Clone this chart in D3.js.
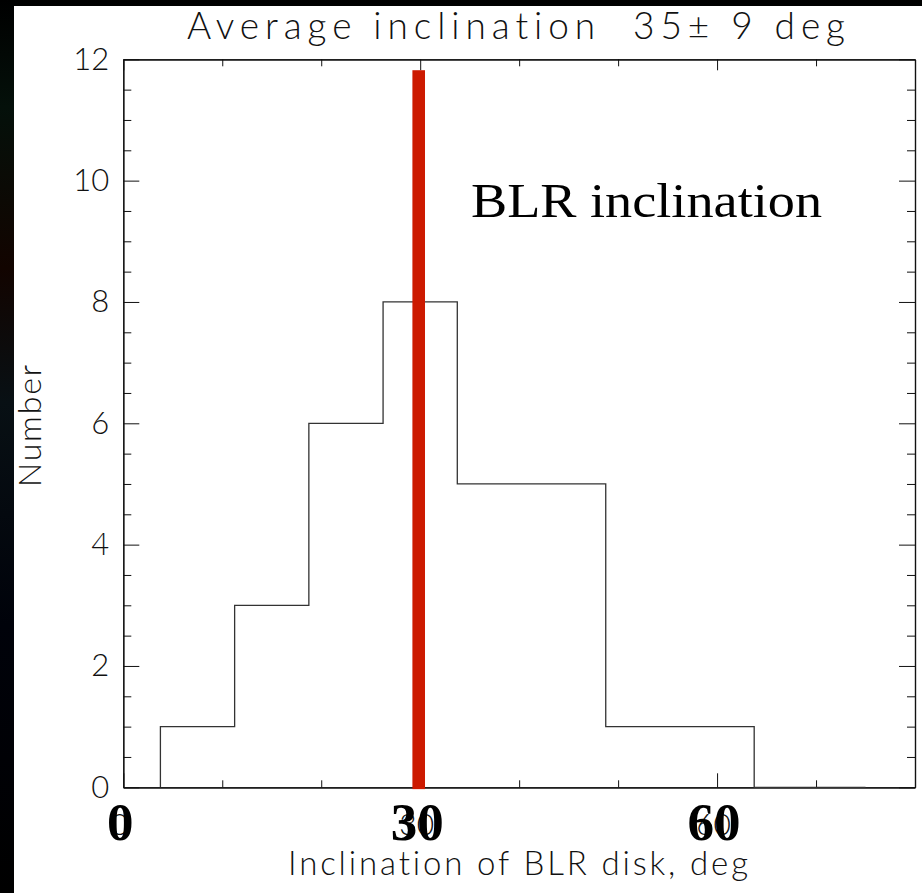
<!DOCTYPE html>
<html>
<head>
<meta charset="utf-8">
<script src="https://cdn.jsdelivr.net/npm/d3@7"></script>
<style>
  body { margin: 0; background: #000; }
  svg { display: block; }
  .thin { font-family: "Lato", "DejaVu Sans", sans-serif; font-weight: 300; fill: #111;
          font-variant-ligatures: none; font-feature-settings: "liga" 0; }
</style>
</head>
<body>
<div id="chart-area"></div>
<script>
/*
*   histogram of BLR disk inclinations
*/
// data
var binEdges  = [3.75, 11.25, 18.75, 26.25, 33.75, 41.25, 48.75, 56.25, 63.75, 75];
var binCounts = [1, 3, 6, 8, 5, 5, 1, 1, 0];
var xMajorTicks = [0, 30, 60];
var xMinorTicks = [10, 20, 40, 50, 70];
var yMajorTicks = [0, 2, 4, 6, 8, 10, 12];
var yMinorTicks = d3.range(0.5, 12, 0.5).filter(function(d){ return d % 2 != 0; });
var markerX = [29.85];          // red BLR line
var markerY = [-0.03, 11.82];
var titleText = "Average inclination  35\u00b1 9 deg";
var xLabelText = "Inclination of BLR disk, deg";
var yLabelText = "Number";
var noteText = "BLR inclination";

var W = 922, H = 893;
var margin = {left: 123.3, right: 7, top: 59.3, bottom: 105.7};
var width = W - margin.left - margin.right;
var height = H - margin.top - margin.bottom;

var svg = d3.select("#chart-area")
    .append("svg")
        .attr("width", W)
        .attr("height", H);

// dark photo-ish strip on the left
var grad = svg.append("defs").append("linearGradient")
    .attr("id", "strip").attr("x1", 0).attr("y1", 0).attr("x2", 0).attr("y2", 1);
[["0", "#000"], ["0.12", "#04100a"], ["0.3", "#120400"], ["0.45", "#081014"], ["0.7", "#00020a"], ["1", "#000"]]
    .forEach(function(s){ grad.append("stop").attr("offset", s[0]).attr("stop-color", s[1]); });
svg.append("rect").attr("width", W).attr("height", H).attr("fill", "url(#strip)");
svg.append("rect").attr("x", 14).attr("y", 6).attr("width", W - 14).attr("height", H - 6).attr("fill", "#fff");

var g = svg.append("g")
    .attr("transform", "translate(" + margin.left + "," + margin.top + ")");

var x = d3.scaleLinear().domain([0, 80]).range([0, width]);
var y = d3.scaleLinear().domain([0, 12]).range([height, 0]);

// axes: ticks point inward on all four sides
function styleAxis(sel){
    sel.select(".domain").attr("stroke", "#111").attr("stroke-width", 1.2);
    sel.selectAll(".tick line").attr("stroke", "#111").attr("stroke-width", 1);
}
g.append("g").attr("transform", "translate(0," + height + ")")
    .call(d3.axisBottom(x).tickValues(xMinorTicks).tickSize(-7).tickSizeOuter(0).tickFormat(""))
    .call(styleAxis);
var xAxisGroup = g.append("g").attr("transform", "translate(0," + height + ")")
    .call(d3.axisBottom(x).tickValues(xMajorTicks).tickSize(-14).tickSizeOuter(0).tickPadding(26))
    .call(styleAxis);
g.append("g")
    .call(d3.axisTop(x).tickValues(xMinorTicks).tickSize(-7).tickSizeOuter(0).tickFormat(""))
    .call(styleAxis);
g.append("g")
    .call(d3.axisTop(x).tickValues(xMajorTicks).tickSize(-11).tickSizeOuter(0).tickFormat(""))
    .call(styleAxis);

g.append("g")
    .call(d3.axisLeft(y).tickValues(yMinorTicks).tickSize(-8).tickSizeOuter(0).tickFormat(""))
    .call(styleAxis);
var yAxisGroup = g.append("g")
    .call(d3.axisLeft(y).tickValues(yMajorTicks).tickSize(-16).tickSizeOuter(0).tickPadding(14))
    .call(styleAxis);
g.append("g").attr("transform", "translate(" + width + ",0)")
    .call(d3.axisRight(y).tickValues(yMinorTicks).tickSize(-8).tickSizeOuter(0).tickFormat(""))
    .call(styleAxis);
g.append("g").attr("transform", "translate(" + width + ",0)")
    .call(d3.axisRight(y).tickValues(yMajorTicks).tickSize(-16).tickSizeOuter(0).tickFormat(""))
    .call(styleAxis);

yAxisGroup.selectAll("text")
    .attr("class", "thin")
    .attr("font-size", "31px")
    .attr("font-family", null);
xAxisGroup.selectAll("text")
    .attr("class", "thin")
    .attr("font-size", "30px")
    .attr("font-family", null)
    .attr("dx", "-4px");

// big serif labels pasted over the axis numbers
g.selectAll(".big-label").data(xMajorTicks).enter()
    .append("text")
        .attr("class", "big-label")
        .attr("x", function(d){ return x(d) - 3; })
        .attr("y", height + 52.7)
        .attr("text-anchor", "middle")
        .attr("font-family", "Liberation Serif, Times New Roman, serif")
        .attr("font-weight", "bold")
        .attr("font-size", "53px")
        .attr("fill", "#000")
        .text(function(d){ return d; });

// histogram outline (step)
var pts = [[binEdges[0], 0]];
binCounts.forEach(function(c, i){
    pts.push([binEdges[i], c]);
    pts.push([binEdges[i + 1], c]);
});
var line = d3.line()
    .x(function(d){ return x(d[0]); })
    .y(function(d){ return y(d[1]); });
g.append("path")
    .datum(pts)
    .attr("d", line)
    .attr("fill", "none")
    .attr("stroke", "#333")
    .attr("stroke-width", 1.3);

// red marker
g.selectAll(".marker").data(markerX).enter()
    .append("rect")
        .attr("class", "marker")
        .attr("x", function(d){ return x(d) - 6.3; })
        .attr("width", 12.6)
        .attr("y", y(markerY[1]))
        .attr("height", y(markerY[0]) - y(markerY[1]))
        .attr("fill", "#cc1a00");

// titles
svg.append("text")
    .attr("class", "thin")
    .attr("x", 187).attr("y", 39.3)
    .attr("font-size", "37px")
    .attr("textLength", 658).attr("lengthAdjust", "spacing")
    .style("white-space", "pre")
    .text(titleText);

svg.append("text")
    .attr("class", "thin")
    .attr("x", 288).attr("y", 875)
    .attr("font-size", "33px")
    .attr("textLength", 460).attr("lengthAdjust", "spacing")
    .text(xLabelText);

svg.append("text")
    .attr("class", "thin")
    .attr("transform", "translate(41,487) rotate(-90)")
    .attr("font-size", "32px")
    .attr("textLength", 122).attr("lengthAdjust", "spacing")
    .text(yLabelText);

svg.append("text")
    .attr("x", 471).attr("y", 217)
    .attr("font-family", "Liberation Serif, Times New Roman, serif")
    .attr("font-size", "48px")
    .attr("fill", "#000")
    .attr("textLength", 351).attr("lengthAdjust", "spacingAndGlyphs")
    .text(noteText);
</script>
</body>
</html>
